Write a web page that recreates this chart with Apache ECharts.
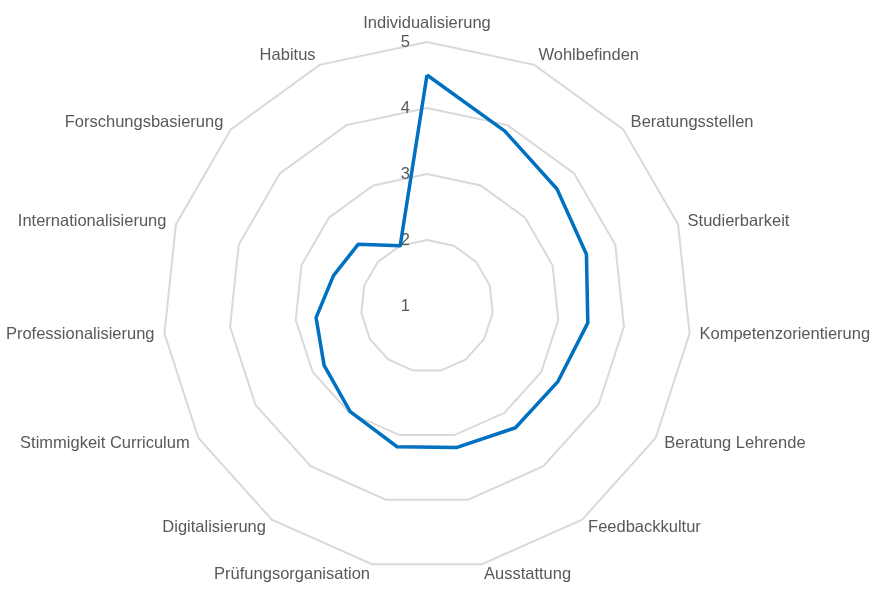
<!DOCTYPE html>
<html lang="de">
<head>
    <meta charset="UTF-8">
    <title>Radar</title>
    <style>
        html, body { margin: 0; padding: 0; background: #fff; }
        #chart { width: 872px; height: 590px; }
    </style>
</head>
<body>
<div id="chart"></div>

<script src="https://cdn.jsdelivr.net/npm/echarts@6/dist/echarts.min.js"></script>
<script>
    // Kategorien im Uhrzeigersinn ab oben
    var categories = ['Individualisierung', 'Wohlbefinden', 'Beratungsstellen', 'Studierbarkeit',
        'Kompetenzorientierung', 'Beratung Lehrende', 'Feedbackkultur', 'Ausstattung',
        'Prüfungsorganisation', 'Digitalisierung', 'Stimmigkeit Curriculum', 'Professionalisierung',
        'Internationalisierung', 'Forschungsbasierung', 'Habitus'];
    var values = [4.5, 3.9, 3.65, 3.54, 3.45, 3.29, 3.28, 3.19, 3.18, 2.98, 2.8, 2.69, 2.49, 2.4, 2.0];
    var scaleMin = 1;
    var scaleMax = 5;

    // ECharts zeichnet gegen den Uhrzeigersinn -> Reihenfolge nach dem ersten Eintrag umdrehen
    var order = [0];
    for (var k = categories.length - 1; k > 0; k--) order.push(k);

    var indicators = order.map(function (i) {
        var ind = {name: categories[i], min: scaleMin, max: scaleMax};
        if (i > 0) ind.axisLabel = {show: false};
        return ind;
    });
    var seriesValues = order.map(function (i) { return values[i]; });

    var myChart = echarts.init(document.getElementById('chart'));
    var option = {
        animation: false,
        radar: {
            center: [427, 306],
            radius: 264,
            startAngle: 90,
            splitNumber: 4,
            shape: 'polygon',
            indicator: indicators,
            nameGap: 10,
            axisName: {
                color: '#595959',
                fontSize: 16.5,
                fontFamily: 'Liberation Sans, Arial, sans-serif'
            },
            axisLine: {show: false},
            axisTick: {show: false},
            axisLabel: {
                show: true,
                color: '#595959',
                fontSize: 16.5,
                fontFamily: 'Liberation Sans, Arial, sans-serif',
                margin: 17
            },
            splitLine: {lineStyle: {color: '#d9d9d9', width: 2}},
            splitArea: {show: false}
        },
        series: [{
            type: 'radar',
            symbol: 'none',
            lineStyle: {color: '#0070c0', width: 3.5},
            data: [{value: seriesValues}]
        }]
    };
    myChart.setOption(option);
</script>
</body>
</html>
